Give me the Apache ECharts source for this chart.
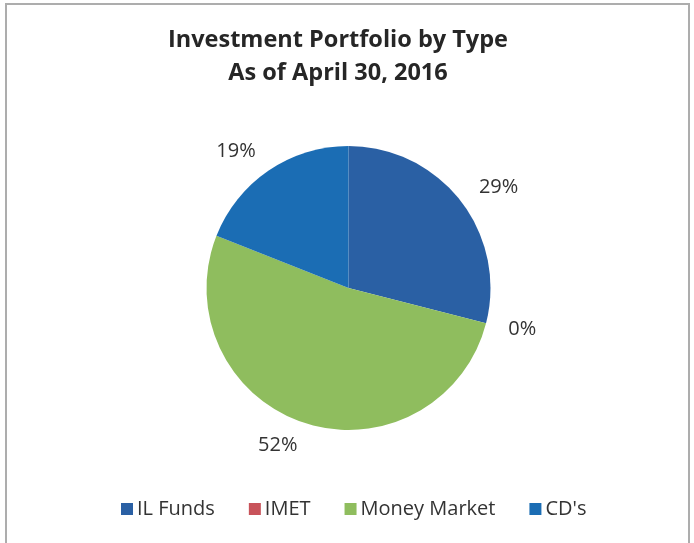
<!DOCTYPE html>
<html>
<head>
<meta charset="utf-8">
<script src="https://cdn.jsdelivr.net/npm/echarts@6/dist/echarts.min.js"></script>
<style>
  html, body { margin: 0; padding: 0; background: #ffffff; }
  #chart { width: 694px; height: 543px; }
</style>
</head>
<body>
<div id="chart"></div>
<script>
// Portfolio composition by investment type (percent of total)
const categories = ['IL Funds', 'IMET', 'Money Market', "CD's"];
const shares = [29, 0, 52, 19];
const sliceColors = ['#2a60a4', '#c8535a', '#8fbd5e', '#1b6db4'];

const chart = echarts.init(document.getElementById('chart'), null, { renderer: 'canvas' });

const fontFamily = '"Open Sans", Lato, sans-serif';

chart.setOption({
  backgroundColor: '#ffffff',
  animation: false,
  title: {
    text: 'Investment Portfolio by Type\nAs of April 30, 2016',
    left: 333,
    top: 19,
    textAlign: 'center',
    textStyle: {
      fontFamily: fontFamily,
      fontSize: 23.5,
      fontWeight: 'bold',
      color: '#262626',
      lineHeight: 33
    }
  },
  legend: {
    bottom: 19,
    left: 116,
    icon: 'rect',
    itemWidth: 12,
    itemHeight: 12,
    itemGap: 34,
    textStyle: {
      fontFamily: fontFamily,
      fontSize: 20,
      color: '#333333',
      padding: [0, 0, 0, -1]
    },
    data: categories
  },
  graphic: [{
    type: 'rect',
    shape: { x: 6, y: 4, width: 683, height: 545 },
    style: { fill: null, stroke: '#adadad', lineWidth: 2 },
    silent: true
  }],
  series: [{
    type: 'pie',
    center: [348.5, 288],
    radius: 142,
    startAngle: 90,
    clockwise: true,
    avoidLabelOverlap: false,
    percentPrecision: 0,
    label: {
      show: true,
      position: 'outside',
      formatter: '{d}%',
      fontFamily: fontFamily,
      fontSize: 20,
      color: '#333333',
      distanceToLabelLine: 0
    },
    labelLine: { show: false, length: 23, length2: 0 },
    itemStyle: { borderWidth: 0 },
    emphasis: { disabled: true },
    data: categories.map((name, i) => ({
      name: name,
      value: shares[i],
      itemStyle: { color: sliceColors[i] }
    }))
  }]
});
</script>
</body>
</html>
